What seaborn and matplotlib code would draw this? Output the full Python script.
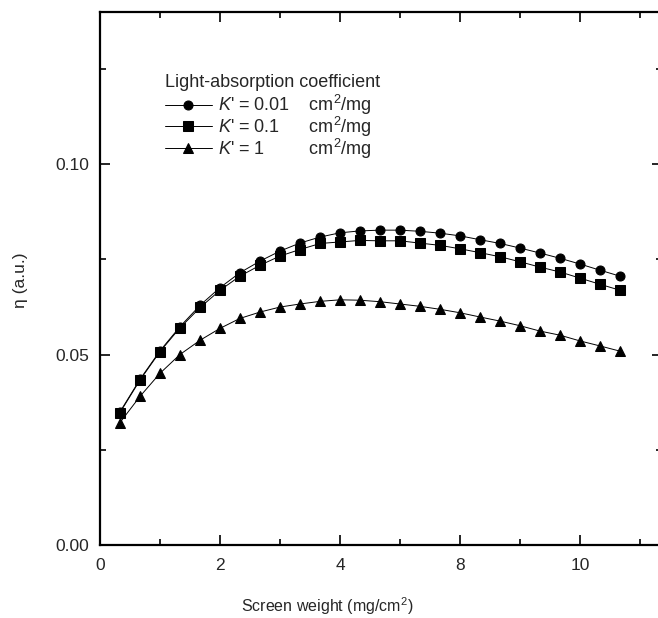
import matplotlib
matplotlib.use("Agg")
import matplotlib.pyplot as plt
import seaborn as sns
import pandas as pd
import numpy as np

# ---- data ----
screen_weight = [0.33, 0.67, 1.00, 1.33, 1.67, 2.00, 2.33, 2.67, 3.00, 3.33, 3.67, 4.00, 4.33,
                 4.67, 5.00, 5.33, 5.67, 6.00, 6.33, 6.67, 7.00, 7.33, 7.67, 8.00, 8.33, 8.67]
eta_k001 = [0.0349, 0.0436, 0.0510, 0.0573, 0.0630, 0.0676, 0.0715, 0.0746, 0.0772, 0.0793, 0.0809, 0.0820, 0.0825,
            0.0827, 0.0827, 0.0824, 0.0819, 0.0812, 0.0802, 0.0792, 0.0780, 0.0767, 0.0753, 0.0738, 0.0722, 0.0706]
eta_k01 = [0.0347, 0.0434, 0.0508, 0.0570, 0.0624, 0.0669, 0.0706, 0.0735, 0.0759, 0.0776, 0.0792, 0.0796, 0.0800,
           0.0799, 0.0799, 0.0793, 0.0787, 0.0778, 0.0768, 0.0757, 0.0744, 0.0730, 0.0717, 0.0701, 0.0685, 0.0669]
eta_k1 = [0.0321, 0.0391, 0.0451, 0.0500, 0.0538, 0.0569, 0.0595, 0.0612, 0.0625, 0.0633, 0.0640, 0.0644, 0.0643,
          0.0639, 0.0633, 0.0627, 0.0619, 0.0610, 0.0599, 0.0588, 0.0576, 0.0562, 0.0551, 0.0536, 0.0523, 0.0509]
series_names = ["0.01", "0.1", "1"]
legend_labels = [r"$K$' = 0.01    cm$^2$/mg",
                 r"$K$' = 0.1      cm$^2$/mg",
                 r"$K$' = 1         cm$^2$/mg"]
legend_title = "Light-absorption coefficient"
x_tick_pos = [0, 2, 4, 6, 8]
x_tick_labels = ["0", "2", "4", "8", "10"]
y_tick_pos = [0.00, 0.05, 0.10]
y_tick_labels = ["0.00", "0.05", "0.10"]

df = pd.DataFrame({
    "x": screen_weight * 3,
    "eta": eta_k001 + eta_k01 + eta_k1,
    "K": [series_names[0]] * len(screen_weight) + [series_names[1]] * len(screen_weight)
         + [series_names[2]] * len(screen_weight),
})

sns.set_style("ticks")
plt.rcParams["font.family"] = ["Liberation Sans", "DejaVu Sans"]
plt.rcParams["mathtext.fontset"] = "custom"
plt.rcParams["mathtext.rm"] = "Liberation Sans"
plt.rcParams["mathtext.it"] = "Liberation Sans:italic"

fig = plt.figure(figsize=(6.58, 6.18), dpi=100)
ax = fig.add_axes([100 / 658, 73 / 618, 562 / 658, 533 / 618])

sns.lineplot(data=df, x="x", y="eta", hue="K", style="K",
             hue_order=series_names, style_order=series_names,
             palette=["black"] * 3, markers=["o", "s", "^"], dashes=False,
             linewidth=0.7, markersize=6.5, markeredgecolor="black",
             ax=ax, legend=True)

handles, _ = ax.get_legend_handles_labels()
leg = ax.legend(handles[-3:], legend_labels, title=legend_title,
                loc="upper left", bbox_to_anchor=(0.099, 0.901),
                frameon=False, fontsize=13, title_fontsize=13,
                handlelength=2.6, handletextpad=0.35, labelspacing=-0.12,
                borderpad=0, alignment="left")
leg._legend_box.sep = 1.4

ax.set_xlim(0, 562 / 60)
ax.set_ylim(0, 0.14)
ax.set_xticks(x_tick_pos)
ax.set_xticklabels(x_tick_labels)
ax.set_xticks([1, 3, 5, 7, 9], minor=True)
ax.set_yticks(y_tick_pos)
ax.set_yticklabels(y_tick_labels)
ax.set_yticks([0.025, 0.075, 0.125], minor=True)

ax.tick_params(which="both", direction="in", top=True, right=True,
               labelsize=12.5, width=1.2, color="black")
ax.tick_params(axis="x", which="major", length=7, pad=9)
ax.tick_params(axis="y", which="major", length=7, pad=8)
ax.tick_params(which="minor", length=4)
for s in ax.spines.values():
    s.set_linewidth(1.6)
    s.set_color("black")

ax.set_xlabel("Screen weight (mg/cm$^2$)", fontsize=11.5)
ax.xaxis.set_label_coords((327 - 100) / 562, -0.095)
ax.set_ylabel("η (a.u.)", fontsize=12.5)
ax.yaxis.set_label_coords(-0.128, 0.497)

fig.savefig("out.png", dpi=100)
